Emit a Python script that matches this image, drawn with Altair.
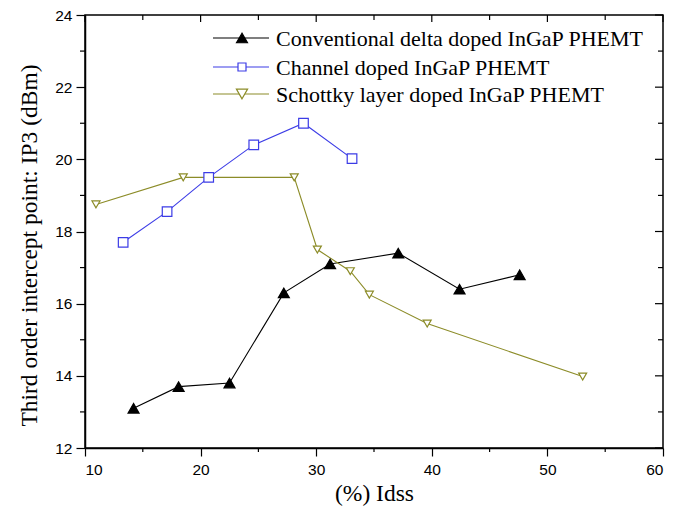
import altair as alt
import pandas as pd

# ---- data ----
series_names = [
    "Conventional delta doped InGaP PHEMT",
    "Channel doped InGaP PHEMT",
    "Schottky layer doped InGaP PHEMT",
]
x_conv = [14.2, 18.1, 22.5, 27.2, 31.2, 37.1, 42.4, 47.6]
y_conv = [13.1, 13.7, 13.8, 16.3, 17.1, 17.4, 16.4, 16.8]
x_chan = [13.3, 17.1, 20.7, 24.6, 28.9, 33.1]
y_chan = [17.7, 18.55, 19.5, 20.4, 21.0, 20.02]
x_scho = [10.95, 18.5, 28.1, 30.1, 32.95, 34.6, 39.6, 53.05]
y_scho = [18.75, 19.5, 19.5, 17.5, 16.9, 16.25, 15.45, 13.98]

x_major = [10, 20, 30, 40, 50, 60]
x_minor = [15, 25, 35, 45, 55]
y_major = [12, 14, 16, 18, 20, 22, 24]
y_minor = [13, 15, 17, 19, 21, 23]

# ---- styling ----
colors = ["#000000", "#3c3ce6", "#8c8c28"]
fills = ["#000000", "#ffffff", "#ffffff"]
shapes = ["triangle-up", "square", "triangle-down"]
sizes = [120, 64, 125]
W, H = 578, 433

rows = []
for name, xs, ys in zip(series_names, [x_conv, x_chan, x_scho], [y_conv, y_chan, y_scho]):
    for i, (a, b) in enumerate(zip(xs, ys)):
        rows.append({"series": name, "x": a, "y": b, "i": i})
df = pd.DataFrame(rows)

xscale = alt.Scale(domain=[10, 60], nice=False, zero=False)
yscale = alt.Scale(domain=[12, 24], nice=False, zero=False)
stroke_scale = alt.Scale(domain=series_names, range=colors)
fill_scale = alt.Scale(domain=series_names, range=fills)
shape_scale = alt.Scale(domain=series_names, range=shapes)
size_scale = alt.Scale(domain=series_names, range=sizes)

xaxis = alt.Axis(
    values=x_major,
    title="(%) Idss",
    tickSize=8,
    labelPadding=6,
    titlePadding=4,
)
yaxis = alt.Axis(
    values=y_major,
    title="Third order intercept point: IP3 (dBm)",
    tickSize=9,
    labelPadding=4,
    titlePadding=13,
    titleY=230,
)

base = alt.Chart(df)

lines = base.mark_line(strokeWidth=1.1).encode(
    x=alt.X("x:Q", scale=xscale, axis=xaxis),
    y=alt.Y("y:Q", scale=yscale, axis=yaxis),
    stroke=alt.Stroke("series:N", scale=stroke_scale, legend=None),
    detail="series:N",
    order="i:Q",
)

points = base.mark_point(filled=True, strokeWidth=1.2, opacity=1).encode(
    x=alt.X("x:Q", scale=xscale, axis=xaxis),
    y=alt.Y("y:Q", scale=yscale, axis=yaxis),
    stroke=alt.Stroke("series:N", scale=stroke_scale, legend=None),
    fill=alt.Fill("series:N", scale=fill_scale, legend=None),
    shape=alt.Shape("series:N", scale=shape_scale, legend=None),
    size=alt.Size("series:N", scale=size_scale, legend=None),
)

# minor / mirror ticks driven by tick arrays through the scales
def xticks(vals, y0, y1):
    return alt.Chart(alt.Data(values=[{"v": v} for v in vals])).mark_rule(
        color="black", strokeWidth=1.2
    ).encode(x=alt.X("v:Q", scale=xscale, axis=xaxis), y=alt.value(y0), y2=alt.value(y1))

def yticks(vals, x0, x1):
    return alt.Chart(alt.Data(values=[{"v": v} for v in vals])).mark_rule(
        color="black", strokeWidth=1.2
    ).encode(y=alt.Y("v:Q", scale=yscale, axis=yaxis), x=alt.value(x0), x2=alt.value(x1))

tick_layers = [
    xticks(x_minor, H, H + 4),
    xticks(x_major, 0, 7),
    xticks(x_minor, 0, 5),
    yticks(y_minor, -5, 0),
    yticks(y_major, W - 8, W),
    yticks(y_minor, W - 5, W),
]

# legend (manual, inside plot area)
legend_layers = []
row_y = [23, 52, 79]
for k, name in enumerate(series_names):
    ld = alt.Data(values=[{"label": name}])
    legend_layers.append(
        alt.Chart(ld).mark_rule(color=colors[k], strokeWidth=1.1).encode(
            x=alt.value(128), x2=alt.value(184), y=alt.value(row_y[k])
        )
    )
    legend_layers.append(
        alt.Chart(ld).mark_point(
            shape=shapes[k], size=sizes[k], filled=True, fill=fills[k],
            stroke=colors[k], strokeWidth=1.2, opacity=1,
        ).encode(x=alt.value(157), y=alt.value(row_y[k]))
    )
    legend_layers.append(
        alt.Chart(ld).mark_text(
            align="left", baseline="middle", font="Liberation Serif",
            fontSize=22, color="black", dy=1,
        ).encode(x=alt.value(191), y=alt.value(row_y[k]), text="label:N")
    )

chart = alt.layer(lines, points, *tick_layers, *legend_layers).properties(
    width=W,
    height=H,
    background="white",
    autosize=alt.AutoSizeParams(type="none"),
    padding={"left": 85, "top": 15, "right": 27, "bottom": 62},
).configure_view(
    stroke="black", strokeWidth=1.5
).configure_axis(
    domainColor="black",
    domainWidth=1.5,
    tickColor="black",
    tickWidth=1.2,
    grid=False,
    labelFont="Liberation Sans",
    labelFontSize=15.5,
    labelColor="black",
    titleFont="Liberation Serif",
    titleFontSize=23.5,
    titleFontWeight="normal",
    titleColor="black",
)

chart.save("out.html", embed_options={"renderer": "svg", "actions": False})
